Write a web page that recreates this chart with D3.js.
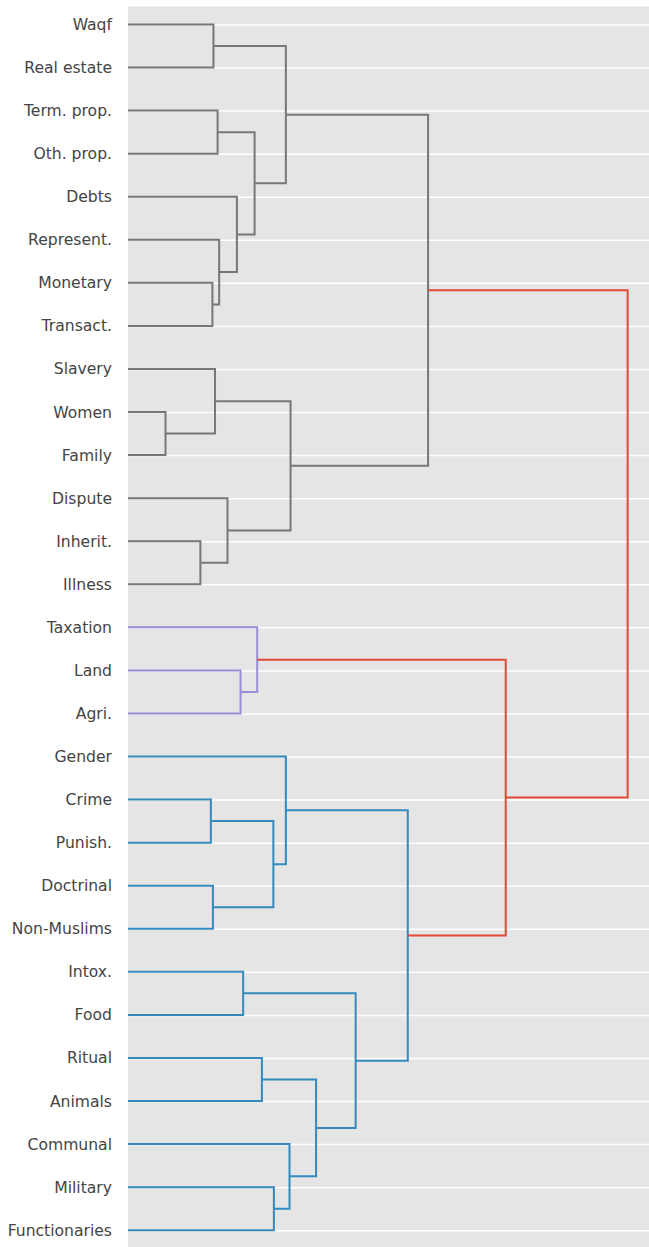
<!DOCTYPE html>
<html>
<head>
<meta charset="utf-8">
<script src="https://cdn.jsdelivr.net/npm/d3@7"></script>
<style>
  html, body { margin: 0; padding: 0; background: #ffffff; }
  svg { display: block; }
</style>
</head>
<body>
<svg id="chart" width="649" height="1247"></svg>
<script>
// Leaf labels, in dendrogram order (top to bottom)
const leaves = [
  "Waqf", "Real estate", "Term. prop.", "Oth. prop.", "Debts", "Represent.",
  "Monetary", "Transact.", "Slavery", "Women", "Family", "Dispute", "Inherit.",
  "Illness", "Taxation", "Land", "Agri.", "Gender", "Crime", "Punish.",
  "Doctrinal", "Non-Muslims", "Intox.", "Food", "Ritual", "Animals",
  "Communal", "Military", "Functionaries"
];

// Linkage rows: [left child, right child, merge distance, cluster colour key]
// Children 0..28 are leaves; child 29 + k refers to the k-th merge below.
const merges = [
  [0, 1, 0.164, "grey"],     // 29  Waqf + Real estate
  [2, 3, 0.172, "grey"],     // 30  Term. prop. + Oth. prop.
  [6, 7, 0.162, "grey"],     // 31  Monetary + Transact.
  [5, 31, 0.175, "grey"],    // 32
  [4, 32, 0.209, "grey"],    // 33
  [30, 33, 0.243, "grey"],   // 34
  [29, 34, 0.303, "grey"],   // 35
  [9, 10, 0.072, "grey"],    // 36  Women + Family
  [8, 36, 0.167, "grey"],    // 37
  [12, 13, 0.139, "grey"],   // 38  Inherit. + Illness
  [11, 38, 0.191, "grey"],   // 39
  [37, 39, 0.312, "grey"],   // 40
  [35, 40, 0.576, "grey"],   // 41
  [15, 16, 0.216, "purple"], // 42  Land + Agri.
  [14, 42, 0.248, "purple"], // 43
  [18, 19, 0.159, "blue"],   // 44  Crime + Punish.
  [20, 21, 0.163, "blue"],   // 45  Doctrinal + Non-Muslims
  [44, 45, 0.279, "blue"],   // 46
  [17, 46, 0.303, "blue"],   // 47
  [22, 23, 0.221, "blue"],   // 48  Intox. + Food
  [24, 25, 0.257, "blue"],   // 49  Ritual + Animals
  [27, 28, 0.280, "blue"],   // 50  Military + Functionaries
  [26, 50, 0.310, "blue"],   // 51
  [49, 51, 0.361, "blue"],   // 52
  [48, 52, 0.437, "blue"],   // 53
  [47, 53, 0.537, "blue"],   // 54
  [43, 54, 0.725, "red"],    // 55
  [41, 55, 0.959, "red"]     // 56  root
];

const palette = {
  grey: "#777777",
  purple: "#988ED5",
  blue: "#348ABD",
  red: "#E24A33"
};

const panel = { left: 128, top: 6.5, right: 649, bottom: 1247 };

const svg = d3.select("#chart");

// Distance runs left (0) to right; leaves sit on evenly spaced rows
const x = d3.scaleLinear().domain([0, 1]).range([panel.left, panel.right]);
const y = d3.scalePoint().domain(leaves).range([24.5, 1230.2]).padding(0);

// Panel background
svg.append("rect")
  .attr("x", panel.left).attr("y", panel.top)
  .attr("width", panel.right - panel.left)
  .attr("height", panel.bottom - panel.top)
  .attr("fill", "#E5E5E5");

// Gridlines through every leaf row, labels to the left
const yAxis = d3.axisLeft(y).tickSize(-(panel.right - panel.left)).tickPadding(16);
const gAxis = svg.append("g")
  .attr("transform", `translate(${panel.left},0)`)
  .call(yAxis);
gAxis.select(".domain").remove();
gAxis.selectAll(".tick line")
  .attr("stroke", "#ffffff")
  .attr("stroke-width", 1.5);
gAxis.selectAll(".tick text")
  .attr("fill", "#444444")
  .attr("font-family", "'DejaVu Sans', sans-serif")
  .attr("font-size", "15.6px");

// Node positions: leaves at distance 0, merges at their height,
// vertically centred between their two children
const nodeX = leaves.map(() => 0);
const nodeY = leaves.map(d => y(d));
merges.forEach(([a, b, h]) => {
  nodeX.push(h);
  nodeY.push((nodeY[a] + nodeY[b]) / 2);
});

// Each link is drawn as a bracket: child a -> merge -> child b
const links = svg.append("g");
merges.forEach(([a, b, h, c]) => {
  const path = d3.path();
  path.moveTo(x(nodeX[a]), nodeY[a]);
  path.lineTo(x(h), nodeY[a]);
  path.lineTo(x(h), nodeY[b]);
  path.lineTo(x(nodeX[b]), nodeY[b]);
  links.append("path")
    .attr("d", path.toString())
    .attr("fill", "none")
    .attr("stroke", palette[c])
    .attr("stroke-width", 2)
    .attr("stroke-linejoin", "miter");
});
</script>
</body>
</html>
